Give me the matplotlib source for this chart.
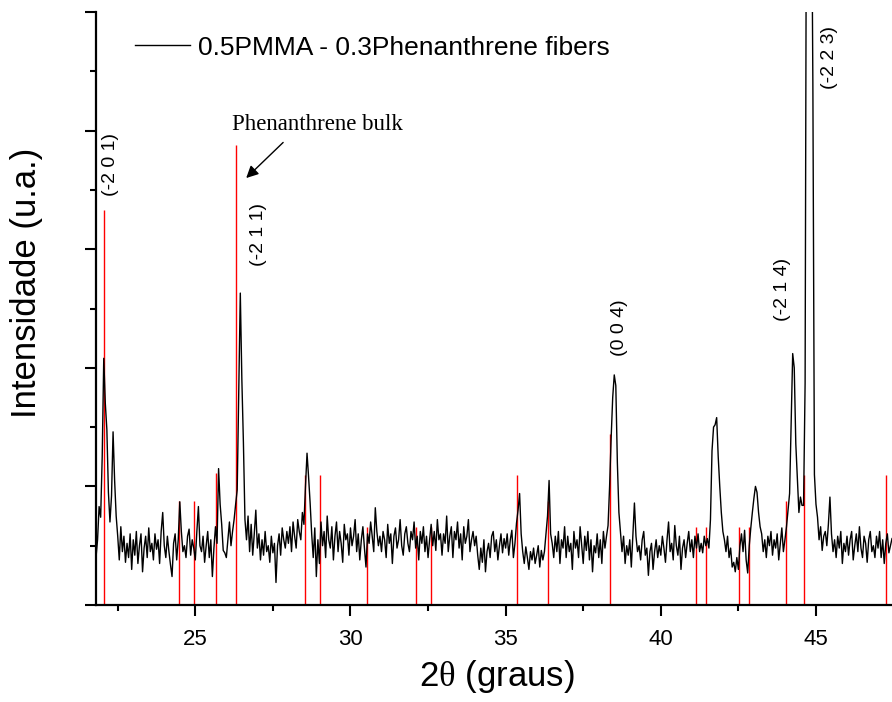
import numpy as np
import matplotlib
matplotlib.use("Agg")
import matplotlib.pyplot as plt

plt.rcParams['font.family'] = ['Liberation Sans', 'DejaVu Sans']
plt.rcParams['mathtext.fontset'] = 'custom'
plt.rcParams['mathtext.rm'] = 'Liberation Serif'

# fibre pattern at 0.05 deg steps from 21.80
x_start = 21.80
x_step = 0.05
fibers = [
    40, 55, 83, 74,
    125, 208, 170, 148, 95, 70, 92, 146, 105, 75, 58, 38, 66, 45, 58, 36, 52, 40, 60, 30,
    55, 42, 62, 35, 50, 60, 28, 48, 58, 40, 65, 45, 52, 38, 60, 47, 55, 35, 62, 78,
    50, 40, 58, 45, 34, 24, 52, 60, 38, 55, 87, 62, 45, 50, 40, 58, 64, 42, 55, 48,
    38, 62, 83, 50, 45, 58, 36, 50, 62, 40, 55, 24, 48, 66, 52, 115, 85, 68, 46, 44,
    40, 55, 70, 50, 62, 72, 85, 97, 180, 263, 190, 137, 72, 55, 75, 45, 68, 42, 60, 80,
    48, 60, 38, 55, 42, 62, 45, 50, 36, 58, 44, 52, 19, 50, 60, 42, 65, 55, 48, 62,
    52, 66, 45, 70, 58, 48, 72, 62, 55, 78, 68, 100, 128, 108, 86, 60, 40, 65, 24, 55,
    35, 70, 50, 62, 40, 75, 55, 48, 66, 38, 58, 70, 45, 62, 52, 36, 68, 55, 60, 42,
    65, 50, 58, 72, 45, 60, 38, 55, 66, 48, 32, 60, 52, 70, 58, 45, 82, 62, 50, 58,
    45, 62, 55, 40, 68, 52, 60, 35, 58, 65, 48, 55, 72, 50, 42, 60, 66, 52, 45, 62,
    55, 70, 48, 58, 38, 62, 52, 66, 45, 58, 40, 55, 68, 50, 62, 46, 72, 55, 60, 42,
    60, 52, 75, 45, 58, 66, 40, 62, 55, 70, 48, 60, 38, 66, 52, 58, 72, 45, 55, 62,
    50, 58, 42, 30, 48, 36, 55, 28, 45, 52, 40, 58, 62, 45, 55, 38, 50, 60, 44, 56,
    48, 60, 42, 55, 63, 40, 52, 69, 80, 94, 60, 45, 35, 49, 40, 30, 45, 38, 48, 35,
    42, 50, 32, 46, 38, 45, 60, 75, 105, 60, 52, 40, 58, 45, 62, 35, 55, 48, 66, 40,
    58, 45, 52, 30, 62, 48, 55, 40, 66, 50, 35, 58, 46, 62, 38, 55, 28, 50, 44, 60,
    40, 55, 35, 62, 48, 58, 67, 100, 141, 175, 194, 185, 120, 78, 62, 45, 58, 35, 50, 42,
    55, 32, 60, 86, 58, 45, 50, 38, 55, 62, 42, 48, 25, 45, 52, 30, 45, 55, 40, 50,
    42, 58, 48, 36, 55, 70, 45, 52, 38, 67, 50, 42, 58, 30, 48, 55, 40, 52, 62, 45,
    55, 40, 58, 48, 60, 45, 52, 44, 58, 50, 56, 48, 72, 130, 150, 152, 158, 125, 100, 78,
    62, 55, 45, 58, 40, 48, 32, 36, 28, 40, 30, 50, 60, 45, 63, 38, 27, 50, 65, 78,
    90, 100, 95, 78, 66, 60, 45, 55, 40, 58, 50, 62, 42, 55, 48, 60, 38, 52, 65, 45,
    55, 66, 80, 94, 155, 212, 200, 136, 107, 78, 91, 84, 84, 187, 700, 750, 800, 650, 440, 110,
    85, 74, 55, 66, 46, 58, 62, 50, 68, 91, 60, 45, 55, 40, 58, 48, 62, 35, 52, 45,
    58, 42, 55, 62, 38, 50, 60, 45, 66, 48, 40, 58, 52, 36, 55, 62, 45, 50, 40, 58,
    48, 62, 40, 55, 35, 52, 60, 44, 50, 56,
]

# phenanthrene bulk reference lines
bulk_pos = [22.05, 24.48, 24.96, 25.68, 26.32, 28.53, 29.02, 30.52, 32.12, 32.58,
            35.36, 36.38, 38.35, 41.12, 41.47, 42.52, 42.85, 44.02, 44.63, 47.27]
bulk_int = [333, 88, 88, 111, 388, 110, 110, 66, 66, 66,
            110, 88, 144, 66, 66, 66, 66, 88, 110, 110]

hkl_labels = ['(-2 0 1)', '(-2 1 1)', '(0 0 4)', '(-2 1 4)', '(-2 2 3)']
hkl_x = [22.26, 27.03, 38.68, 43.93, 45.44]
hkl_y = [371, 312, 234, 266, 462]

two_theta = np.round(x_start + x_step * np.arange(len(fibers)), 2)

fig = plt.figure(figsize=(8.92, 7.02), dpi=100)
ax = fig.add_axes([96/892, 97/702, 796/892, 593/702])

ax.vlines(bulk_pos, 0, bulk_int, colors='red', lw=1.0)
ax.plot(two_theta, fibers, color='black', lw=1.0,
        label='0.5PMMA - 0.3Phenanthrene fibers')

ax.set_xlim(21.8, 47.45)
ax.set_ylim(0, 500)

ax.set_xticks([25, 30, 35, 40, 45])
ax.set_xticks(np.arange(22.5, 47.5, 5), minor=True)
ax.set_yticks(np.arange(0, 501, 100))
ax.set_yticks(np.arange(50, 500, 100), minor=True)
ax.set_yticklabels([])
ax.tick_params(which='major', direction='out', length=8, width=1.5,
               labelsize=16, pad=9)
ax.tick_params(which='minor', direction='out', length=4, width=1.5)

for s in ['top', 'right']:
    ax.spines[s].set_visible(False)
for s in ['left', 'bottom']:
    ax.spines[s].set_linewidth(1.6)

ax.set_xlabel(r'2$\mathrm{θ}$ (graus)', fontsize=25)
ax.xaxis.set_label_coords(0.504, -0.09)
ax.set_ylabel('Intensidade (u.a.)', fontsize=25)
ax.yaxis.set_label_coords(-0.066, 0.544)

for lab, lx, ly in zip(hkl_labels, hkl_x, hkl_y):
    ax.text(lx, ly, lab, rotation=90, ha='center', va='center', fontsize=14)

ax.text(28.93, 405, 'Phenanthrene bulk', ha='center', va='center',
        fontsize=16.5, family='Liberation Serif')
ax.annotate('', xy=(26.64, 360), xytext=(27.83, 390),
            arrowprops=dict(arrowstyle='-|>', color='black', lw=1.0,
                            mutation_scale=18, shrinkA=0, shrinkB=0))

ax.legend(loc='center left', bbox_to_anchor=(0.049, 0.94), frameon=False,
          fontsize=19, handlelength=2.1, handletextpad=0.27, borderpad=0,
          borderaxespad=0)

fig.savefig('out.png', dpi=100)
